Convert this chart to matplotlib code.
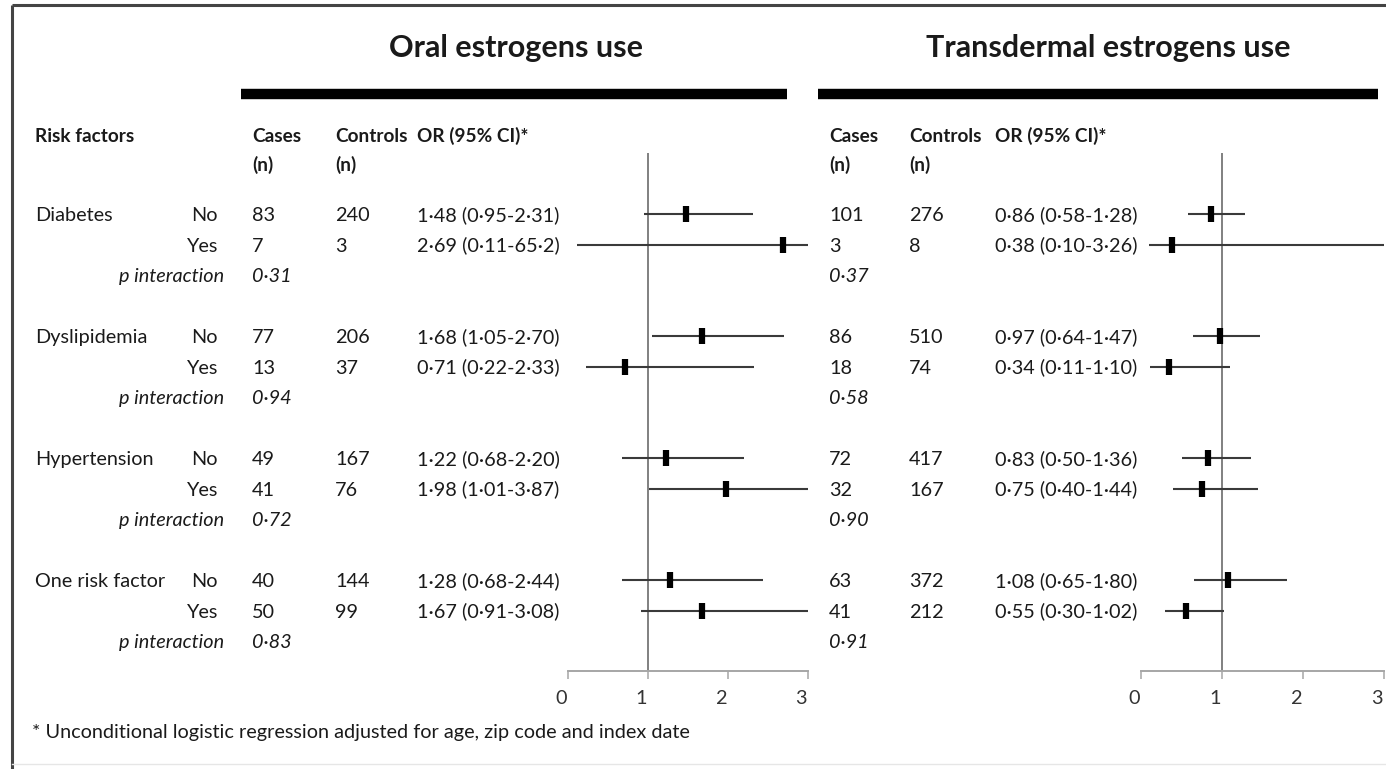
import matplotlib
matplotlib.use("Agg")
import matplotlib.pyplot as plt
import matplotlib.transforms as mtransforms

plt.rcParams['font.family'] = ['Lato', 'DejaVu Sans']

# data
factors = ['Diabetes', 'Dyslipidemia', 'Hypertension', 'One risk factor']
levels = ['No', 'Yes']

oral_cases = [83, 7, 77, 13, 49, 41, 40, 50]
oral_controls = [240, 3, 206, 37, 167, 76, 144, 99]
oral_or = [1.48, 2.69, 1.68, 0.71, 1.22, 1.98, 1.28, 1.67]
oral_lo = [0.95, 0.11, 1.05, 0.22, 0.68, 1.01, 0.68, 0.91]
oral_hi = [2.31, 65.2, 2.70, 2.33, 2.20, 3.87, 2.44, 3.08]
oral_p = [0.31, 0.94, 0.72, 0.83]

trans_cases = [101, 3, 86, 18, 72, 32, 63, 41]
trans_controls = [276, 8, 510, 74, 417, 167, 372, 212]
trans_or = [0.86, 0.38, 0.97, 0.34, 0.83, 0.75, 1.08, 0.55]
trans_lo = [0.58, 0.10, 0.64, 0.11, 0.50, 0.40, 0.65, 0.30]
trans_hi = [1.28, 3.26, 1.47, 1.10, 1.36, 1.44, 1.80, 1.02]
trans_p = [0.37, 0.58, 0.90, 0.91]

ticks = [0, 1, 2, 3]

W, H = 1386, 769
fig = plt.figure(figsize=(W / 100, H / 100), dpi=100)

# background axes in pixel units for the table text
bg = fig.add_axes([0, 0, 1, 1])
bg.set_xlim(0, W)
bg.set_ylim(H, 0)
bg.axis('off')

TXT = '#1a1a1a'
FS = 14.3


def fmt(v):
    s = f"{v:.1f}" if v >= 10 else f"{v:.2f}"
    return s.replace('.', '\u00b7')


# layout (pixels)
row0, gstep, lstep = 214, 122, 30.5
row_y = []
for g in range(len(factors)):
    for k in range(2):
        row_y.append(row0 + g * gstep + k * lstep)
p_y = [row0 + g * gstep + 2 * lstep for g in range(len(factors))]
ax_top, ax_bot = 153, 671
dy = 7  # baseline offset from row centre

# frame
bg.plot([12, W], [5, 5], color='#444444', lw=2.2, solid_capstyle='butt')
bg.plot([12, 12], [5, H], color='#444444', lw=2.2, solid_capstyle='butt')
bg.plot([12, W], [764, 764], color='#e6e6e6', lw=1)

# titles and bars
bg.text(516, 57.5, 'Oral estrogens use', fontsize=22, fontweight='bold',
        ha='center', va='baseline', color=TXT)
bg.text(1108, 57.5, 'Transdermal estrogens use', fontsize=22, fontweight='bold',
        ha='center', va='baseline', color=TXT)
bg.plot([241, 787], [94, 94], color='black', lw=7.5, solid_capstyle='butt')
bg.plot([818, 1378], [94, 94], color='black', lw=7.5, solid_capstyle='butt')

# headers
hb = dict(fontsize=13.7, fontweight='bold', va='baseline', color=TXT)
bg.text(35, 142, 'Risk factors', **hb)
for cx, ctl, orx in [(252, 335, 417), (829, 909, 995)]:
    bg.text(cx, 142, 'Cases', **hb)
    bg.text(ctl, 142, 'Controls', **hb)
    bg.text(orx, 142, 'OR (95% CI)*', **hb)
    bg.text(cx, 171, '(n)', **hb)
    bg.text(ctl, 171, '(n)', **hb)

# rows
body = dict(fontsize=FS, va='baseline', color=TXT)
for g, name in enumerate(factors):
    bg.text(35, row_y[2 * g] + dy, name, **body)
    bg.text(224, p_y[g] + dy, 'p interaction', ha='right', style='italic', **body)
    bg.text(252, p_y[g] + dy, fmt(oral_p[g]), style='italic', **body)
    bg.text(829, p_y[g] + dy, fmt(trans_p[g]), style='italic', **body)
for i, y in enumerate(row_y):
    bg.text(218, y + dy, levels[i % 2], ha='right', **body)
    bg.text(252, y + dy, str(oral_cases[i]), **body)
    bg.text(335, y + dy, str(oral_controls[i]), **body)
    bg.text(417, y + dy, f"{fmt(oral_or[i])} ({fmt(oral_lo[i])}-{fmt(oral_hi[i])})", **body)
    bg.text(829, y + dy, str(trans_cases[i]), **body)
    bg.text(909, y + dy, str(trans_controls[i]), **body)
    bg.text(995, y + dy, f"{fmt(trans_or[i])} ({fmt(trans_lo[i])}-{fmt(trans_hi[i])})", **body)

bg.text(32, 738, '* Unconditional logistic regression adjusted for age, zip code and index date',
        **body)


def forest(x0, x1, ors, los, his):
    ax = fig.add_axes([x0 / W, 1 - ax_bot / H, (x1 - x0) / W, (ax_bot - ax_top) / H])
    ax.patch.set_alpha(0)
    ax.set_xlim(0, 3)
    ax.set_ylim(ax_bot, ax_top)
    for s in ['top', 'right', 'left']:
        ax.spines[s].set_visible(False)
    ax.spines['bottom'].set_color('#a6a6a6')
    ax.spines['bottom'].set_linewidth(1.4)
    ax.set_yticks([])
    ax.set_xticks(ticks)
    ax.tick_params(axis='x', direction='out', length=6, width=1.1, color='#a6a6a6',
                   labelsize=FS, labelcolor='#333333', pad=8)
    shift = mtransforms.ScaledTranslation(-7 / 100, 0, fig.dpi_scale_trans)
    for lab in ax.get_xticklabels():
        lab.set_transform(lab.get_transform() + shift)
    ax.axvline(1, color='#808080', lw=1.4, zorder=1)
    ax.hlines(row_y, los, his, color='#3a3a3a', lw=1.5, zorder=2)
    ax.plot(ors, row_y, ls='none', marker='|', ms=12, mew=4.5, color='black', zorder=3)
    return ax


forest(568, 808, oral_or, oral_lo, oral_hi)
forest(1141, 1384, trans_or, trans_lo, trans_hi)

fig.savefig('out.png', dpi=100, facecolor='white')
